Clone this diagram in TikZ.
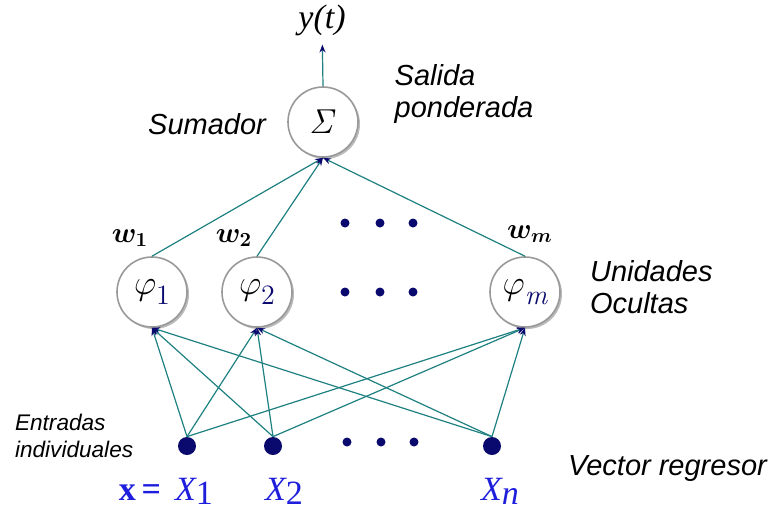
\documentclass[tikz,border=0pt]{standalone}
\usepackage{amsmath}
\usepackage{bm}
\usepackage[no-math]{fontspec}
\setsansfont{Liberation Sans}
\newfontfamily\serifa{Liberation Serif}
\usetikzlibrary{arrows.meta,shadows}
\definecolor{linea}{RGB}{30,128,128}
\definecolor{marino}{RGB}{10,10,110}
\definecolor{azul}{RGB}{30,30,220}
\newcommand{\fiu}[1]{$\varphi$\raisebox{-5pt}{\fontsize{14}{14}\selectfont\color{marino}#1}}
\newcommand{\ex}[1]{\serifa\itshape X\raisebox{-2pt}{\upshape #1}}
\tikzset{
 unidad/.style={circle,draw=gray!80,thick,fill=white,minimum size=35pt,inner sep=0pt,
   font=\fontsize{17}{18}\selectfont,
   drop shadow={shadow xshift=1pt,shadow yshift=-1pt,fill=gray!60,opacity=.9}},
 entrada/.style={circle,fill=marino,minimum size=9pt,inner sep=0pt},
 punto/.style={circle,fill=marino,minimum size=4.5pt,inner sep=0pt},
 rotulo/.style={font=\sffamily\itshape\fontsize{14.5}{16}\selectfont,align=left},
 peso/.style={font=\fontsize{14}{16}\selectfont},
 etiq/.style={text=azul,font=\fontsize{17}{18}\selectfont,anchor=base},
 conex/.style={draw=linea,line width=0.6pt,-{Stealth[length=4pt,width=3pt,color=marino]}},
}

\begin{document}
\begin{tikzpicture}[x=0.5pt,y=-0.5pt]
			\useasboundingbox (0,0) rectangle (772,511);
			% sumador y salida
			\node[unidad] (s) at (323,122) {$\mathit{\Sigma}$};
			\node[font=\serifa\itshape\fontsize{17}{18}\selectfont] (y) at (322,20) {y(t)};
			\node[rotulo] (sum) at (207,124) {Sumador};
			\node[rotulo] (sal) at (464,94) {Salida\\ponderada};
			% unidades ocultas
			\node[unidad] (h1) at (152,292) {\fiu{1}};
			\node[unidad] (h2) at (257,292) {\fiu{2}};
			\node[unidad] (hm) at (525,292) {\fiu{\itshape m}};
			\node[rotulo,anchor=west] (uo) at (583,287) {Unidades\\Ocultas};
			\node[peso] (w1) at (130,238) {$\bm{w_1}$};
			\node[peso] (w2) at (234,238) {$\bm{w_2}$};
			\node[peso] (wm) at (530,234) {$\bm{w_m}$};
			\node[punto] (a1) at (345,223) {};
			\node[punto] (a2) at (380,223) {};
			\node[punto] (a3) at (413,223) {};
			\node[punto] (b1) at (345,292) {};
			\node[punto] (b2) at (380,292) {};
			\node[punto] (b3) at (413,292) {};
			% entradas
			\node[entrada] (x1) at (187,446) {};
			\node[entrada] (x2) at (273,446) {};
			\node[entrada] (xn) at (492,446) {};
			\node[punto] (c1) at (347,442) {};
			\node[punto] (c2) at (381,442) {};
			\node[punto] (c3) at (414,442) {};
			\node[rotulo,anchor=west,font=\sffamily\itshape\fontsize{11.3}{13.5}\selectfont] (ent) at (8,436) {Entradas\\individuales};
			\node[rotulo,anchor=west] (vr) at (561,469) {Vector regresor};
			\node[etiq] (vx) at (140,500) {\serifa\bfseries x\,=};
			\node[etiq] (l1) at (194,500) {\ex{1}};
			\node[etiq] (l2) at (284,500) {\ex{2}};
			\node[etiq] (ln) at (500,500) {\ex{\itshape n}};
			% conexiones
			\draw[conex] (x1.north)--(h1.south);
			\draw[conex] (x1.north)--(h2.south);
			\draw[conex] (x1.north)--(hm.south);
			\draw[conex] (x2.north)--(h1.south);
			\draw[conex] (x2.north)--(h2.south);
			\draw[conex] (x2.north)--(hm.south);
			\draw[conex] (xn.north)--(h1.south);
			\draw[conex] (xn.north)--(h2.south);
			\draw[conex] (xn.north)--(hm.south);
			\draw[conex] (h1.north)--(s.south);
			\draw[conex] (h2.north)--(s.south);
			\draw[conex] (hm.north)--(s.south);
			\draw[conex,shorten >=1pt] (s.north)--(y);
\end{tikzpicture}
\end{document}
